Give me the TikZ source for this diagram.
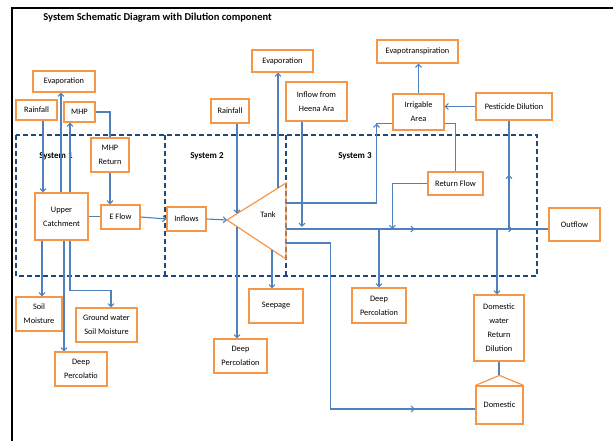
\documentclass[tikz,border=0pt]{standalone}
\usepackage{fontspec}
\setmainfont{Carlito}
\usetikzlibrary{positioning,arrows.meta,calc,decorations.markings}
\definecolor{boxorange}{HTML}{F79646}
\definecolor{flowblue}{HTML}{4F81BD}
\definecolor{sysblue}{HTML}{1F497D}

\begin{document}
\begin{tikzpicture}[
  x=1pt,y=-1pt,
  box/.style={draw=boxorange,line width=1.2pt,inner sep=1pt,align=center,font=\fontsize{8.3}{14}\selectfont},
  roof/.style={draw=boxorange,line width=1.2pt},
  flow/.style={draw=flowblue,line width=1.1pt},
  flowarr/.style={flow,-{Straight Barb[length=3pt,width=6pt]}},
  midarr/.style={postaction={decorate,decoration={markings,mark=at position #1 with {\arrow{Straight Barb[length=3pt,width=6pt]}}}}},
  sysbox/.style={draw=sysblue,line width=1.1pt,dash pattern=on 5pt off 3pt},
  syslabel/.style={font=\fontsize{9}{11}\selectfont\bfseries}
]
\useasboundingbox (0,0) rectangle (613,441);
\draw[line width=1.5pt] (12,441) -- (12,8) -- (613,8);
\node[font=\fontsize{10.5}{12}\selectfont\bfseries] (title) at (157.5,18) {System Schematic Diagram with Dilution component};

% system boundaries
\draw[sysbox] (16,135) rectangle (537,276);
\draw[sysbox] (165,135) -- (165,276);
\draw[sysbox] (286,135) -- (286,276);
\node[syslabel] (sys1) at (56,156) {System 1};
\node[syslabel] (sys2) at (207,156) {System 2};
\node[syslabel] (sys3) at (355,156) {System 3};

% system 1
\node[box,minimum width=62pt,minimum height=21pt] (evapA) at (64,81.5) {Evaporation};
\node[box,minimum width=41pt,minimum height=20pt] (rainA) at (36.5,110) {Rainfall};
\node[box,minimum width=31pt,minimum height=20pt] (mhp) at (79.5,112) {MHP};
\node[box,minimum width=38pt,minimum height=34pt] (mhpret) at (110,155) {MHP\\Return};
\node[box,minimum width=53pt,minimum height=47pt] (upper) at (61.5,216.5) {Upper\\Catchment};
\node[box,minimum width=39pt,minimum height=24pt] (eflow) at (120.5,217) {E Flow};
\node[box,minimum width=46pt,minimum height=34pt] (soil) at (39,314) {Soil\\Moisture};
\node[box,minimum width=61pt,minimum height=34pt] (ground) at (106.5,325) {Ground water\\Soil Moisture};
\node[box,minimum width=52pt,minimum height=34pt] (deepA) at (81,369) {Deep\\Percolatio};

% system 2
\node[box,minimum width=39pt,minimum height=24pt] (inflows) at (186.5,219) {Inflows};
\node[box,minimum width=38pt,minimum height=24pt] (rainB) at (230,111) {Rainfall};
\node[box,minimum width=61pt,minimum height=22pt] (evapB) at (282.5,61) {Evaporation};
\node[box,minimum width=61pt,minimum height=39pt] (heena) at (316.5,101.5) {Inflow from\\Heena Ara};
\node[box,minimum width=54pt,minimum height=34pt] (seep) at (276,306) {Seepage};
\node[box,minimum width=53pt,minimum height=34pt] (deepB) at (240.5,356) {Deep\\Percolation};
\coordinate (tankL) at (227,220);
\coordinate (tankT) at (286,183);
\coordinate (tankB) at (286,259);
\draw[roof] (tankL) -- (tankT) -- (tankB) -- cycle;
\node[font=\fontsize{8.3}{10}\selectfont] (tank) at (268,215) {Tank};
\coordinate (t1) at ($(tankL)!0.17!(tankT)$);
\coordinate (t2) at ($(tankL)!0.864!(tankT)$);
\coordinate (t3) at ($(tankL)!0.17!(tankB)$);
\coordinate (t4) at ($(tankL)!0.763!(tankB)$);
\coordinate (t5) at ($(tankT)!0.263!(tankB)$);
\coordinate (t6) at ($(tankT)!0.605!(tankB)$);
\coordinate (t7) at ($(tankT)!0.789!(tankB)$);

% system 3
\node[box,minimum width=81pt,minimum height=23pt] (evapot) at (417.5,51.5) {Evapotranspiration};
\node[box,minimum width=51pt,minimum height=36pt] (irrig) at (418.5,112) {Irrigable\\Area};
\node[box,minimum width=76pt,minimum height=27pt] (pest) at (514,106.5) {Pesticide Dilution};
\node[box,minimum width=55pt,minimum height=23pt] (retflow) at (455.5,183.5) {Return Flow};
\node[box,minimum width=54pt,minimum height=35pt] (deepC) at (379,305.5) {Deep\\Percolation};
\node[box,minimum width=51pt,minimum height=33pt] (outflow) at (574.5,224.5) {Outflow};
\node[box,minimum width=50pt,minimum height=66pt] (domret) at (499,328) {Domestic\\water\\Return\\Dilution};
\node[box,minimum width=47pt,minimum height=38pt] (domestic) at (499.5,405) {Domestic};
\coordinate (apex) at ([yshift=10pt]domestic.north);
\draw[roof] (domestic.north west) -- (apex) -- (domestic.north east);

% system 1 flows
\draw[flowarr] ([xshift=6.5pt]rainA.south) -- ([xshift=6.5pt]rainA.south |- upper.north);
\draw[flowarr] ([xshift=-0.5pt]upper.north) -- ([xshift=-0.5pt]upper.north |- evapA.south);
\draw[flowarr] ([xshift=8.5pt]upper.north) -- ([xshift=8.5pt]upper.north |- mhp.south);
\draw[flow] (mhp.east) -| (mhpret.north);
\draw[flowarr] (mhpret.south) -- (mhpret.south |- eflow.north);
\draw[flow] (upper.east) -- (upper.east -| eflow.west);
\draw[flowarr] (eflow.east) -- (inflows.west);
\draw[flowarr] ([xshift=-19.5pt]upper.south) -- ([xshift=-19.5pt]upper.south |- soil.north);
\draw[flowarr] ([xshift=2.5pt]upper.south) -- ([xshift=2.5pt]upper.south |- deepA.north);
\draw[flowarr] ([xshift=8.5pt]upper.south) |- ([xshift=4.5pt,yshift=17pt]ground.north) -- ([xshift=4.5pt]ground.north);

% system 2 flows
\draw[flowarr] (inflows.east) -- (tankL);
\draw[flowarr] (rainB.south -| t1) -- (t1);
\draw[flowarr] (t2) -- (t2 |- evapB.south);
\draw[flowarr] (t3) -- (t3 |- deepB.north);
\draw[flowarr] (t4) -- (t4 |- seep.north);

% system 3 flows
\draw[flowarr,shorten >=2pt] ([xshift=-14.5pt]heena.south) -- ([xshift=-14.5pt]heena.south |- t6);
\draw[flowarr] (t5) -| ([xshift=-16pt,yshift=7pt]irrig.south west);
\draw[flow] ([xshift=-16pt,yshift=7pt]irrig.south west) -- ([yshift=7pt]irrig.south west);
\draw[flow,midarr=0.49,midarr=0.863] (t6) -- (t6 -| outflow.west);
\draw[flowarr] (retflow.west) -| ([xshift=-35pt]retflow.west |- t6);
\draw[flow] ([yshift=7pt]irrig.south east) -| (retflow.north);
\draw[flowarr] (pest.west) -- (pest.west -| irrig.east);
\draw[flowarr] (irrig.north) -- (irrig.north |- evapot.south);
\draw[flow,midarr=0.5] ([xshift=-5pt]pest.south |- t6) -- ([xshift=-5pt]pest.south);
\draw[flowarr] (deepC.north |- t6) -- (deepC.north);
\draw[flowarr] ([xshift=-2pt]domret.north |- t6) -- ([xshift=-2pt]domret.north);
\draw[flow] (domret.south) -- (domret.south |- apex);
\draw[flow,midarr=0.83] (t7) -| ([xshift=-145pt,yshift=-4pt]domestic.west) -- ([yshift=-4pt]domestic.west);
\end{tikzpicture}
\end{document}
